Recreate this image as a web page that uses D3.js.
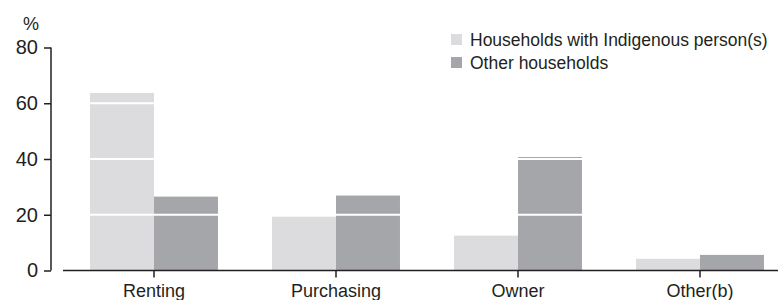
<!DOCTYPE html>
<html>
<head>
<meta charset="utf-8">
<script src="https://cdn.jsdelivr.net/npm/d3@7"></script>
<style>
	body { margin: 0; background: #fff; }
	svg text { font-family: "Liberation Sans", Arial, sans-serif; fill: #231f20; }
</style>
</head>
<body>
<svg id="chart"></svg>
<script>
var categories = ["Renting", "Purchasing", "Owner", "Other(b)"];
var seriesNames = ["Households with Indigenous person(s)", "Other households"];
var indigenous = [63.7, 19.3, 12.5, 4.2];
var other = [26.5, 26.9, 40.7, 5.6];
var yTicks = [0, 20, 40, 60, 80];
var colors = ["#dcdcde", "#a5a6a9"];

var width = 778, height = 300;

var svg = d3.select("#chart")
	.attr("width", width)
	.attr("height", height);

var y = d3.scaleLinear().domain([0, 80]).range([270.5, 47.5]);

var x = d3.scaleBand()
	.domain(categories)
	.range([63, 791])
	.paddingInner(0.297)
	.paddingOuter(0.1485);

var x1 = d3.scaleBand()
	.domain([0, 1])
	.range([0, x.bandwidth()]);

var rows = categories.map(function (c, i) {
	return { cat: c, values: [indigenous[i], other[i]] };
});

// bars
var groups = svg.append("g")
	.selectAll("g")
	.data(rows)
	.enter().append("g")
	.attr("transform", function (d) { return "translate(" + x(d.cat) + ",0)"; });

groups.selectAll("rect")
	.data(function (d) { return d.values; })
	.enter().append("rect")
	.attr("x", function (d, i) { return x1(i); })
	.attr("width", x1.bandwidth())
	.attr("y", function (d) { return y(d); })
	.attr("height", function (d) { return y(0) - y(d); })
	.style("fill", function (d, i) { return colors[i]; });

// white gridlines over the bars
svg.append("g")
	.selectAll("line")
	.data(yTicks.filter(function (t) { return t > 0 && t < 80; }))
	.enter().append("line")
	.attr("x1", 63)
	.attr("x2", width)
	.attr("y1", function (d) { return y(d); })
	.attr("y2", function (d) { return y(d); })
	.style("stroke", "#fff")
	.style("stroke-width", 2);

// y axis
var yAxis = d3.axisLeft(y).tickValues(yTicks).tickSize(7).tickPadding(6);
var gy = svg.append("g")
	.attr("transform", "translate(51,0)")
	.call(yAxis);
gy.select(".domain").attr("d", "M0," + y(80) + "V" + y(0)).style("stroke", "#231f20").style("stroke-width", 1.5);
gy.selectAll(".tick line").style("stroke", "#231f20").style("stroke-width", 1.5);
gy.selectAll(".tick text")
	.style("font-size", "20px")
	.style("font-family", "'Liberation Sans', Arial, sans-serif")
	.style("fill", "#231f20");

svg.append("text")
	.attr("x", 31)
	.attr("y", 30)
	.attr("text-anchor", "middle")
	.style("font-size", "18px")
	.text("%");

// x axis
var xAxis = d3.axisBottom(x).tickSize(7).tickPadding(7).tickSizeOuter(0);
var gx = svg.append("g")
	.attr("transform", "translate(0," + y(0) + ")")
	.call(xAxis);
gx.select(".domain").attr("d", "M63,0H" + width).style("stroke", "#231f20").style("stroke-width", 1.5);
gx.selectAll(".tick line").style("stroke", "#231f20").style("stroke-width", 1.5);
gx.selectAll(".tick text")
	.style("font-size", "18px")
	.style("font-family", "'Liberation Sans', Arial, sans-serif")
	.style("fill", "#231f20");

// legend
var legend = svg.append("g")
	.selectAll("g")
	.data(seriesNames)
	.enter().append("g")
	.attr("transform", function (d, i) { return "translate(451," + (34 + i * 23) + ")"; });

legend.append("rect")
	.attr("width", 11)
	.attr("height", 11)
	.style("fill", function (d, i) { return colors[i]; });

legend.append("text")
	.attr("x", 19)
	.attr("y", 11.5)
	.style("font-size", "17.5px")
	.text(function (d) { return d; });
</script>
</body>
</html>
